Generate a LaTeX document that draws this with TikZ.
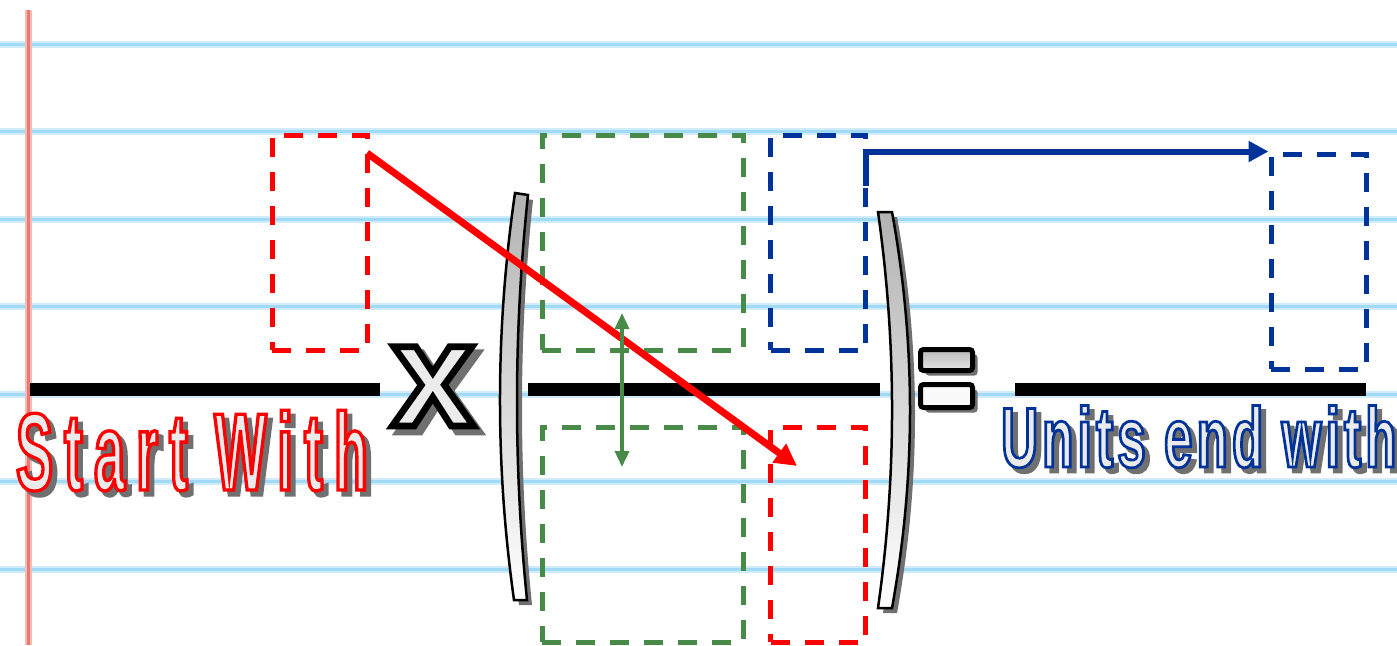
\documentclass[tikz,border=0pt]{standalone}
\usepackage{fontspec}
\usetikzlibrary{arrows.meta,shadows}
\newfontfamily\signfont{Liberation Sans Bold}[FakeStretch=0.5,LetterSpace=10.5,FakeBold=3]
\newfontfamily\unitfont{Liberation Sans Bold}[FakeStretch=0.6,LetterSpace=5,FakeBold=3.2]
\newfontfamily\opfont{Liberation Sans Bold}[FakeBold=4.5]
\definecolor{ruleblue}{RGB}{160,218,245}
\definecolor{marginred}{RGB}{238,120,110}
\definecolor{ugreen}{RGB}{72,138,72}
\definecolor{ublue}{RGB}{0,51,153}
\definecolor{shadow}{RGB}{112,112,112}
% outlined text with a drop shadow: #1 stroke colour, #2 shadow offset, #3 text
\newcommand\signtxt[3]{\rlap{\hspace{#2}\raisebox{-#2}{\special{pdf:bcolor [0.44] [0.44]}#3\special{pdf:ecolor}}}\special{pdf:bcolor [0.92] [#1]}#3\special{pdf:ecolor}}
\begin{document}
\begin{tikzpicture}[x=1pt,y=-1pt,
  ubox/.style={draw,line width=5pt,dash pattern=on 19pt off 15pt,inner sep=0pt,minimum width=95pt,minimum height=215pt},
  wbox/.style={ubox,minimum width=201pt},
  bar/.style={line width=13pt},
  brk/.style={draw=black,line width=2.5pt,top color=gray!60,bottom color=white,drop shadow={shadow xshift=5pt,shadow yshift=-5pt,fill=shadow,opacity=1}},
  eqbar/.style={draw=black,line width=5pt,rounded corners=3pt,minimum width=52pt,inner sep=0pt,drop shadow={shadow xshift=5pt,shadow yshift=-5pt,fill=shadow,opacity=1}},
  sign/.style={inner sep=0pt,anchor=base west}]
\useasboundingbox[fill=white] (0,0) rectangle (1397,645);
% ruled paper
\foreach \y in {44,131.5,219,306.5,394,481.5,569} {\draw[ruleblue!50,line width=7pt] (0,\y) -- (1397,\y); \draw[ruleblue,line width=3pt] (0,\y) -- (1397,\y);}
\draw[marginred!50,line width=7pt] (28,10) -- (28,645);
\draw[marginred,line width=3pt] (28,10) -- (28,645);
% fraction bars
\draw[bar] (30,389) -- (380,389);
\draw[bar] (528,389) -- (880,389);
\draw[bar] (1015,389) -- (1366,389);
% unit boxes
\node[ubox,red] (startbox) at (319.5,242.5) {};
\node[wbox,ugreen] (numbox) at (642.5,242.5) {};
\node[wbox,ugreen] (denbox) at (642.5,534.5) {};
\node[ubox,ublue] (numunit) at (818,242.5) {};
\node[ubox,red] (denunit) at (818,534.5) {};
\node[ubox,ublue] (endbox) at (1318.5,261.5) {};
% brackets
\path[brk] (515,193) .. controls (495.3,329) and (495,464.7) .. (514,600) -- (527,600) .. controls (513.3,464.7) and (513.7,329.7) .. (528,195) -- cycle;
\path[brk] (878,212) .. controls (896.7,344) and (896.7,476) .. (878,608) -- (892,608) .. controls (916,476) and (916,344) .. (892,212) -- cycle;
% operators
\node[sign,anchor=base,font=\opfont\fontsize{150}{150}\selectfont] (times) at (433,426) {\signtxt{0}{6pt}{x}};
\node[eqbar,minimum height=21pt,top color=gray!55,bottom color=gray!20] (eqtop) at (946.5,360) {};
\node[eqbar,minimum height=23pt,fill=gray!5] (eqbot) at (946.5,396) {};
% labels
\node[sign,font=\signfont\fontsize{110}{110}\selectfont] (start) at (16,490) {\signtxt{1 0 0}{5pt}{Start With}};
\node[sign,font=\unitfont\fontsize{85}{85}\selectfont] (units) at (1001,467) {\signtxt{0 0.2 0.6}{5pt}{Units end with}};
% arrows
\coordinate (rtail) at (367,153);
\coordinate (rhead) at (797,466);
\draw[red,line width=7pt,-{Triangle[length=22pt,width=22pt]}] (rtail) -- (rhead);
\coordinate (btail) at (866,186);
\draw[ublue,line width=6pt,-{Triangle[length=20pt,width=20pt]}] (btail) |- (endbox.north west);
\coordinate (gtop) at (622,313);
\coordinate (gbot) at (622,467);
\draw[ugreen,line width=3.5pt,{Triangle[length=16pt,width=14pt]}-{Triangle[length=16pt,width=14pt]}] (gtop) -- (gbot);
\end{tikzpicture}
\end{document}
